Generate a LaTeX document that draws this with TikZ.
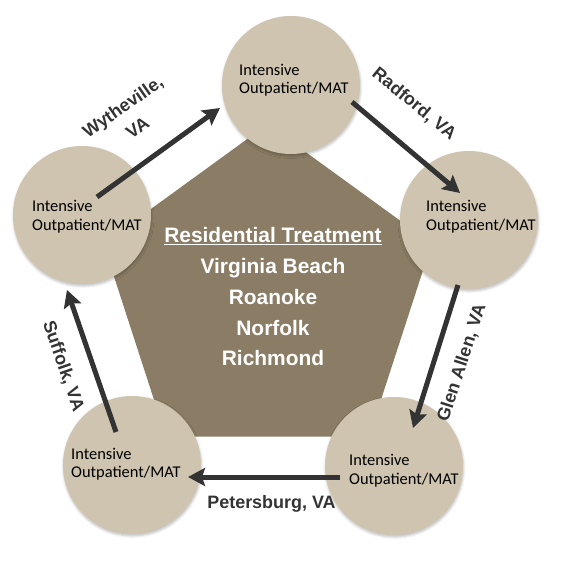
\documentclass[tikz,border=0pt]{standalone}
\usepackage{fontspec}
\setmainfont{Liberation Sans}
\newfontfamily\circfont{Carlito}
\usetikzlibrary{arrows.meta,shadows.blur}
\definecolor{sand}{HTML}{CFC4AF}
\definecolor{umber}{HTML}{8B7D65}
\definecolor{ink}{HTML}{333333}

\begin{document}
\begin{tikzpicture}[x=1bp,y=-1bp,
  site/.style={circle, fill=sand, minimum size=138bp, inner sep=0pt,
    blur shadow={shadow xshift=0.5bp, shadow yshift=-2bp, shadow blur radius=2.5bp, shadow opacity=25}},
  sitetext/.style={anchor=west, align=left, inner sep=0pt,
    font=\circfont\fontsize{16.5}{18.5}\selectfont, text=black},
  flow/.style={draw=ink, line width=5bp, -{Stealth[length=17bp,width=18bp,inset=3bp]}},
  town/.style={font=\bfseries\fontsize{18}{26}\selectfont, text=ink, align=center, inner sep=0pt},
  hub/.style={font=\bfseries\fontsize{21}{31}\selectfont, text=white, align=center, inner sep=0pt}
]
\useasboundingbox (0,0) rectangle (564,561);

% central pentagon
\fill[umber] (267.5,124.3) -- (431.7,243.6) -- (369,436.7) -- (166,436.7) -- (103.3,243.6) -- cycle;
\node[hub, anchor=north] (hubtext) at (273,227)
  {\underline{Residential Treatment}\\Virginia Beach\\Roanoke\\Norfolk\\Richmond};

% outpatient sites
\node[site] (top) at (291,85) {};
\node[site] (right) at (469,220) {};
\node[site] (lowright) at (394,466) {};
\node[site] (lowleft) at (132,465) {};
\node[site] (left) at (82,215) {};

% arrow end points
\coordinate (a0) at (97,197);   \coordinate (a1) at (220,108);
\coordinate (b0) at (352,102);  \coordinate (b1) at (460,193);
\coordinate (c0) at (458,285);  \coordinate (c1) at (413,428);
\coordinate (d0) at (340,477);  \coordinate (d1) at (188,477);
\coordinate (e0) at (116,432);  \coordinate (e1) at (67,290);

\draw[flow] (a0) -- (a1);
\draw[flow] (b0) -- (b1);
\draw[flow] (c0) -- (c1);
\draw[flow] (d0) -- (d1);
\draw[flow] (e0) -- (e1);

% site captions
\node[sitetext] (toptext) at (239,80) {Intensive\\Outpatient/MAT};
\node[sitetext] (righttext) at (426,216.5) {Intensive\\Outpatient/MAT};
\node[sitetext] (lowrighttext) at (349,470.5) {Intensive\\Outpatient/MAT};
\node[sitetext] (lowlefttext) at (71,464) {Intensive\\Outpatient/MAT};
\node[sitetext] (lefttext) at (32,216.5) {Intensive\\Outpatient/MAT};

% town labels along the arrows
\node[town, rotate=35] (wythe) at (130,117) {Wytheville,\\VA};
\node[town, rotate=-39] (radford) at (414,104) {Radford, VA};
\node[town, rotate=72] (glen) at (462,363) {Glen Allen, VA};
\node[town] (peters) at (271.5,504) {Petersburg, VA};
\node[town, rotate=-71] (suffolk) at (63,366) {Suffolk, VA};
\end{tikzpicture}
\end{document}
